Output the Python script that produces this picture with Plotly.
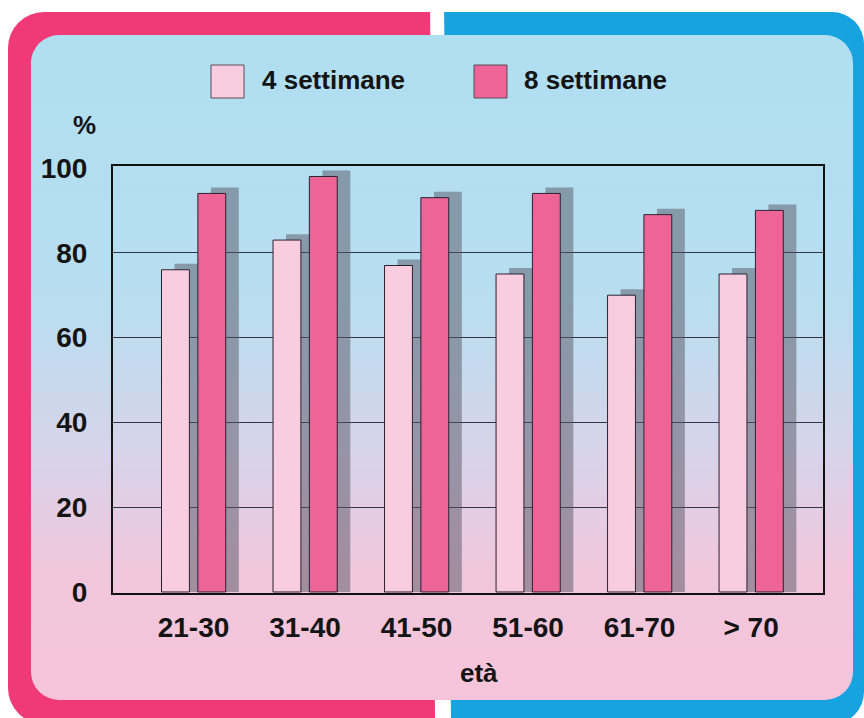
import base64
import plotly.graph_objects as go

# ---- data -------------------------------------------------------------
age_groups = ["21-30", "31-40", "41-50", "51-60", "61-70", "> 70"]
weeks4 = [76, 83, 77, 75, 70, 75]
weeks8 = [94, 98, 93, 94, 89, 90]
series_names = ["4 settimane", "8 settimane"]
y_ticks = [0, 20, 40, 60, 80, 100]
grid_ticks = [20, 40, 60, 80]

# ---- styling ----------------------------------------------------------
color4 = "#f9cde0"
color8 = "#ee6497"
shadow_color = "rgba(85,85,100,0.5)"
edge_color = "#2b2230"
text_color = "#141414"
FONT = "Liberation Sans"

W, H = 864, 718
ML, MR, MT, MB = 113, 41, 166, 125
PW, PH = W - ML - MR, H - MT - MB

bar_w = 0.25
off4, off8 = -0.287, 0.039
shadow_dx, shadow_dy = 0.117, 1.4


def px(x):
    return (x - ML) / PW


def py(y):
    return (H - MB - y) / PH


# rounded two-colour frame with a blue-to-pink panel, drawn as a backdrop
svg = f"""<svg xmlns="http://www.w3.org/2000/svg" width="{W}" height="{H}" viewBox="0 0 {W} {H}">
<defs>
<linearGradient id="g" x1="0" y1="0" x2="0" y2="1">
<stop offset="0" stop-color="#afdff1"/>
<stop offset="0.4" stop-color="#b8def0"/>
<stop offset="0.62" stop-color="#d6d4ea"/>
<stop offset="0.8" stop-color="#f0c7dd"/>
<stop offset="1" stop-color="#f6c4da"/>
</linearGradient>
<clipPath id="l"><polygon points="0,0 430,0 435,{H} 0,{H}"/></clipPath>
<clipPath id="r"><polygon points="444,0 {W},0 {W},{H} 451,{H}"/></clipPath>
</defs>
<rect width="{W}" height="{H}" fill="#ffffff"/>
<rect x="8" y="12" width="858" height="712" rx="36" fill="#ef3a77" clip-path="url(#l)"/>
<rect x="8" y="12" width="856" height="712" rx="32" fill="#17a3df" clip-path="url(#r)"/>
<rect x="31" y="35" width="822" height="665" rx="28" fill="url(#g)"/>
</svg>"""
svg_uri = "data:image/svg+xml;base64," + base64.b64encode(svg.encode()).decode()

fig = go.Figure()

# drop shadows behind the bars
for vals, off in ((weeks4, off4), (weeks8, off8)):
    fig.add_trace(go.Bar(
        x=age_groups, y=[v + shadow_dy for v in vals],
        width=bar_w, offset=off + shadow_dx,
        marker=dict(color=shadow_color, line=dict(width=0)),
        hoverinfo="skip", showlegend=False,
    ))

for vals, off, col, name in ((weeks4, off4, color4, series_names[0]),
                             (weeks8, off8, color8, series_names[1])):
    fig.add_trace(go.Bar(
        x=age_groups, y=vals, name=name,
        width=bar_w, offset=off,
        marker=dict(color=col, line=dict(color=edge_color, width=1)),
        showlegend=False,
    ))

# horizontal rules at the inner ticks (overlay axis, no labels)
fig.add_trace(go.Scatter(x=[age_groups[0]], y=[0], yaxis="y2",
                         mode="markers", marker=dict(opacity=0),
                         hoverinfo="skip", showlegend=False))

tick_font = dict(family=FONT, size=28, color=text_color, weight="bold")

fig.update_layout(
    width=W, height=H,
    margin=dict(l=ML, r=MR, t=MT, b=MB),
    paper_bgcolor="#ffffff",
    plot_bgcolor="rgba(0,0,0,0)",
    barmode="overlay",
    xaxis=dict(
        type="category", range=[-0.722, 5.645],
        showline=True, mirror=True, linecolor="#111111", linewidth=2,
        showgrid=False, ticks="", tickfont=tick_font, ticklabelstandoff=8,
        fixedrange=True,
    ),
    yaxis=dict(
        range=[-0.24, 100.47], tickvals=y_ticks,
        showline=True, mirror=True, linecolor="#111111", linewidth=2,
        showgrid=False, zeroline=False, ticks="",
        tickfont=tick_font, ticklabelstandoff=18,
    ),
    yaxis2=dict(
        overlaying="y", range=[-0.24, 100.47], tickvals=grid_ticks,
        showgrid=True, gridcolor="#343446", gridwidth=1,
        showticklabels=False, zeroline=False, showline=False,
    ),
    images=[dict(
        source=svg_uri, xref="paper", yref="paper",
        x=px(0), y=py(0), sizex=W / PW, sizey=H / PH,
        xanchor="left", yanchor="top", sizing="stretch", layer="below",
    )],
)

# legend swatches and labels
label_font = dict(family=FONT, size=26, color=text_color, weight="bold")
for (x0, x1), col, name, tx in (((211, 244), color4, series_names[0], 260),
                                ((474, 507), color8, series_names[1], 522)):
    fig.add_shape(type="rect", xref="paper", yref="paper",
                  x0=px(x0), x1=px(x1), y0=py(98), y1=py(65),
                  fillcolor=col, line=dict(color="#5a4a55", width=1))
    fig.add_annotation(text=name, xref="paper", yref="paper",
                       x=px(tx), y=py(80), xanchor="left", yanchor="middle",
                       showarrow=False, font=label_font)

fig.add_annotation(text="%", xref="paper", yref="paper",
                   x=px(84), y=py(125), xanchor="center", yanchor="middle",
                   showarrow=False, font=label_font)
fig.add_annotation(text="età", xref="paper", yref="paper",
                   x=px(479), y=py(673), xanchor="center", yanchor="middle",
                   showarrow=False, font=label_font)

fig.write_html("out.html")
